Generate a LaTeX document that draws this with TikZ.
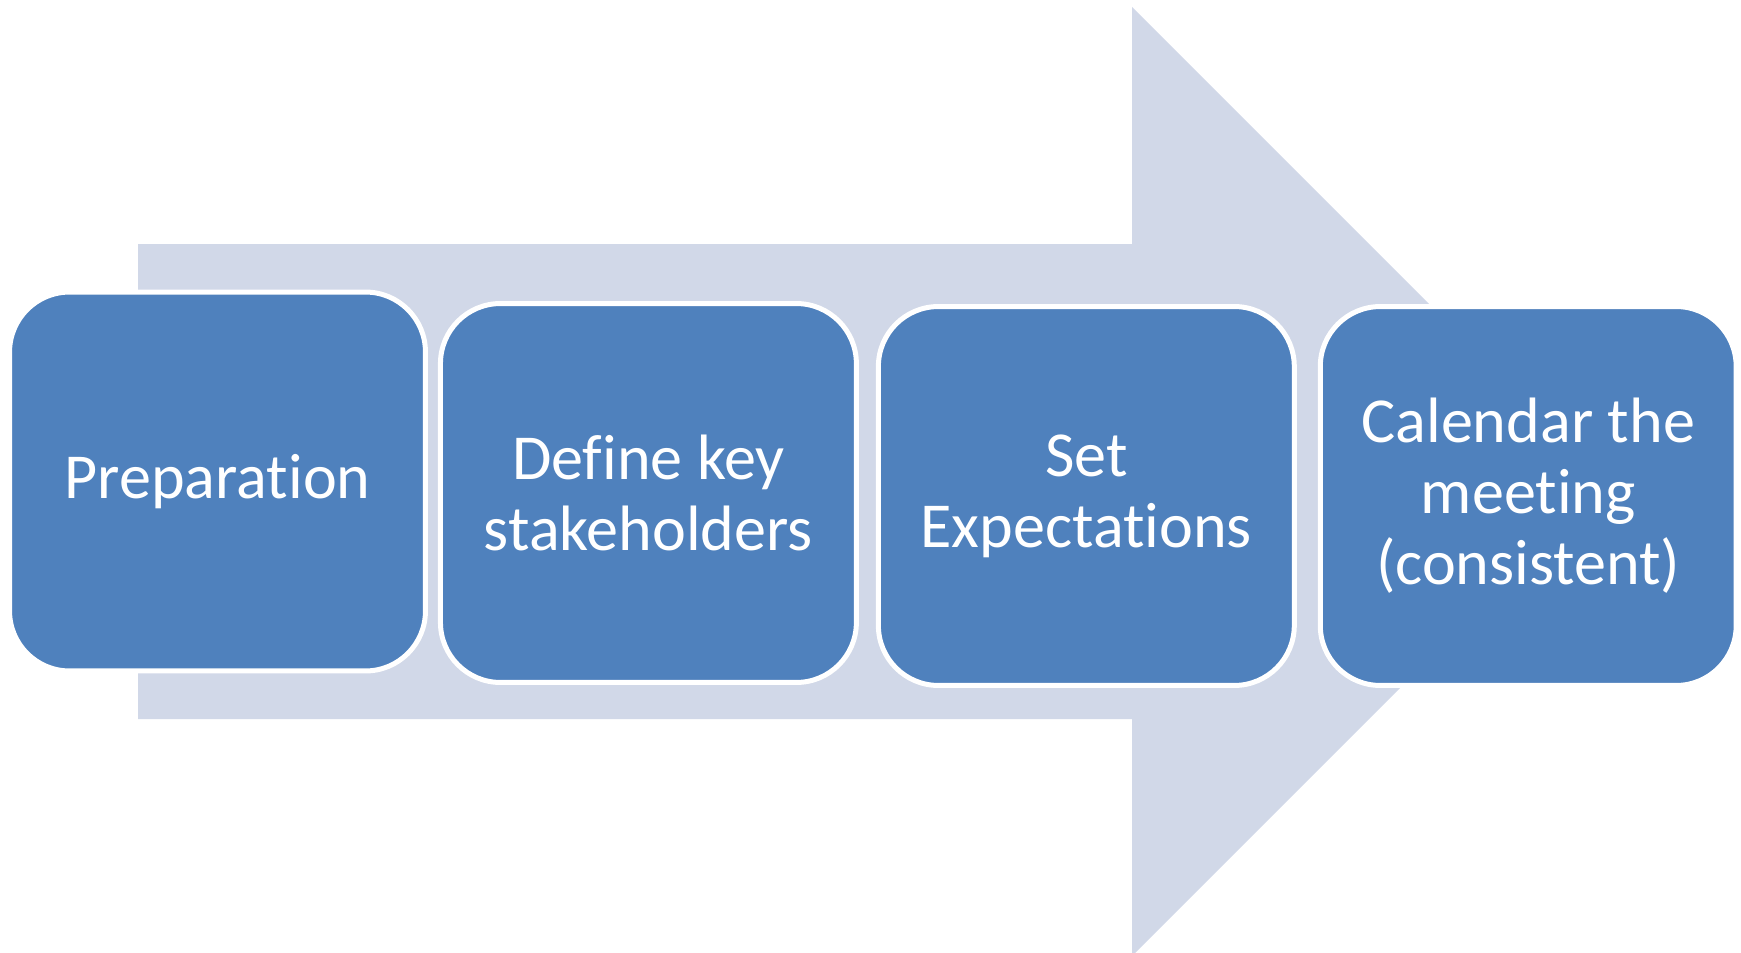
\documentclass[tikz,border=0pt]{standalone}
\usepackage{fontspec}
\setmainfont{Carlito}[Ligatures=NoCommon]
\usetikzlibrary{positioning}

\definecolor{stepblue}{RGB}{79,129,189}
\definecolor{arrowgray}{RGB}{209,216,232}

\begin{document}
\begin{tikzpicture}[
        x=0.02cm, y=-0.02cm,
        node distance=0.3cm,
        every node/.style={font=\fontsize{36.5}{40.4}\selectfont},
        stepbox/.style={rectangle, rounded corners=1.2cm, draw=white, line width=0.1cm, fill=stepblue, text=white, align=center, inner sep=0pt, minimum width=8.32cm, minimum height=7.58cm}
    ]
        \clip (0,0) rectangle (1741,953);
        % big background arrow
        \fill[arrowgray] (138,244) -- (1132,244) -- (1132,7) -- (1606.5,481.5) -- (1132,956) -- (1132,719) -- (138,719) -- cycle;
        \node[stepbox] (prep) at (217.5,481.5) {Preparation};
        \node[stepbox, right=0.2cm of prep, yshift=-0.23cm] (stake) {Define key\\stakeholders};
        \node[stepbox, right=0.34cm of stake, yshift=-0.06cm] (expect) {Set\\Expectations};
        \node[stepbox, right=0.42cm of expect] (meet) {Calendar the\\meeting\\(consistent)};
    \end{tikzpicture}
\end{document}
